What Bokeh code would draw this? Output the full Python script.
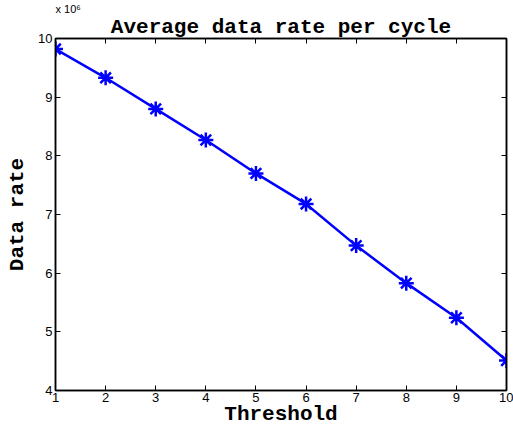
from bokeh.plotting import figure
from bokeh.models import Range1d, LinearAxis, FixedTicker, CustomJSTickFormatter
from bokeh.embed import file_html
from bokeh.resources import INLINE

title_text = "Average data rate per cycle"
multiplier_text = "x 10⁶"
x_label = "Threshold"
y_label = "Data rate"
threshold = [1, 2, 3, 4, 5, 6, 7, 8, 9, 10]
data_rate = [9.82e6, 9.33e6, 8.80e6, 8.27e6, 7.70e6, 7.18e6, 6.47e6, 5.83e6, 5.24e6, 4.51e6]
x_ticks = [1, 2, 3, 4, 5, 6, 7, 8, 9, 10]
y_ticks = [4e6, 5e6, 6e6, 7e6, 8e6, 9e6, 10e6]

p = figure(width=513, height=428, output_backend="svg", toolbar_location=None,
           x_range=Range1d(1, 10), y_range=Range1d(4e6, 10e6),
           min_border_left=55, min_border_right=7, min_border_top=38, min_border_bottom=38)
p.grid.visible = False
p.outline_line_color = "black"
p.outline_line_width = 1.5

# the "x 10^6" multiplier as the (outermost) plot title, left aligned
p.title.text = multiplier_text
p.title.text_font = "Liberation Sans"
p.title.text_font_style = "normal"
p.title.text_font_size = "11px"
p.title.text_color = "black"
p.title.align = "left"
p.title.standoff = -4

fmt = CustomJSTickFormatter(code="return (tick/1e6).toFixed(0);")
blank = CustomJSTickFormatter(code="return '';")

bottom = p.below[0]
left = p.left[0]
bottom.ticker = FixedTicker(ticks=x_ticks)
left.ticker = FixedTicker(ticks=y_ticks)
left.formatter = fmt

top = LinearAxis(ticker=FixedTicker(ticks=x_ticks), formatter=blank)
right = LinearAxis(ticker=FixedTicker(ticks=y_ticks), formatter=blank)
p.add_layout(top, "above")
p.add_layout(right, "right")

for ax in (bottom, left, top, right):
    ax.major_tick_in = 5
    ax.major_tick_out = 0
    ax.minor_tick_line_color = None
    ax.axis_line_width = 1.5
    ax.major_tick_line_width = 1
    ax.major_label_text_font = "Liberation Sans"
    ax.major_label_text_font_size = "13px"
    ax.major_label_text_color = "black"
    ax.axis_label_text_font = "Liberation Mono"
    ax.axis_label_text_font_style = "bold"
    ax.axis_label_text_font_size = "21px"
    ax.axis_label_text_color = "black"

bottom.axis_label = x_label
bottom.major_label_standoff = 2
bottom.axis_label_standoff = -2
left.axis_label = y_label
left.major_label_standoff = 3
left.axis_label_standoff = 6

top.axis_label = title_text
top.major_label_standoff = 0
top.axis_label_standoff = 0
right.major_label_standoff = 0

p.line(threshold, data_rate, line_color="#0000ff", line_width=2.5)
p.scatter(threshold, data_rate, marker="asterisk", size=15, line_color="#0000ff", line_width=2.5)

open("out.html", "w").write(file_html(p, INLINE))
